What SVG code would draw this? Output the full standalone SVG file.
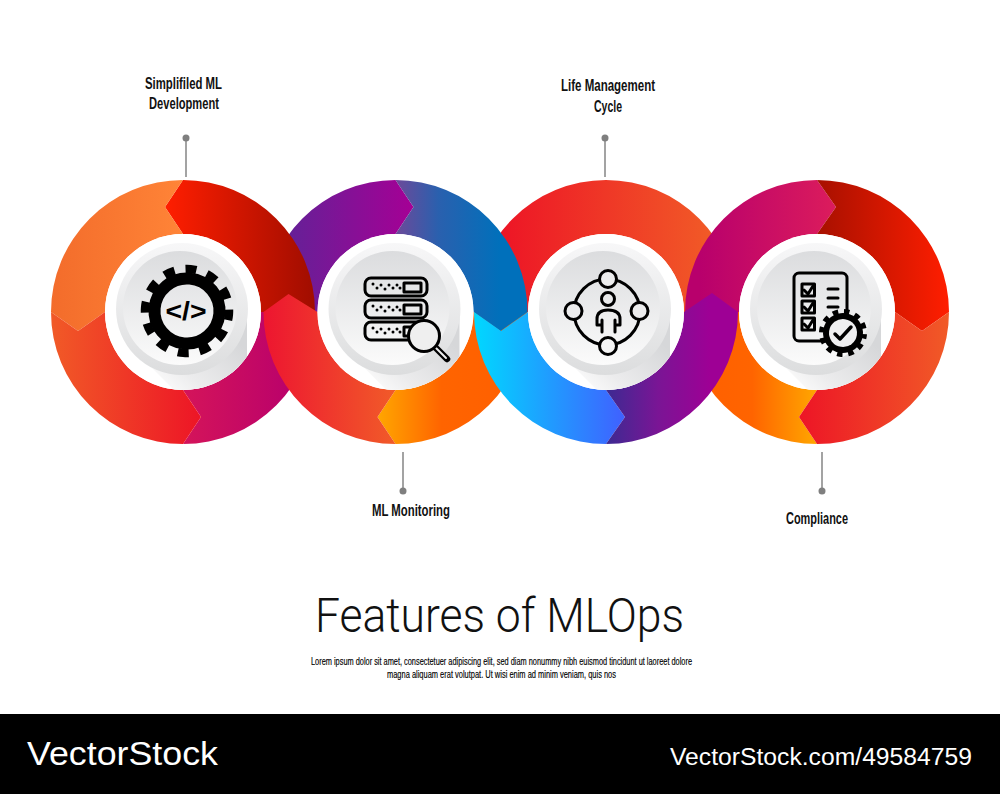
<svg xmlns="http://www.w3.org/2000/svg" width="1000" height="794" viewBox="0 0 1000 794">
<style>
.lbl{font-family:"Liberation Sans Narrow","Liberation Sans",sans-serif;font-size:16px;font-weight:700;fill:#111;text-anchor:middle}
.body{font-family:"Liberation Sans Narrow","Liberation Sans",sans-serif;font-size:10px;font-weight:400;fill:#000;stroke:#000;stroke-width:.15;text-anchor:middle}
.lead{stroke:#8c8c8c;stroke-width:1.6;fill:none}
.dot{fill:#7f7f7f}
.ink{fill:none;stroke:#000;stroke-width:3;stroke-linecap:round;stroke-linejoin:round}
.wm{font-family:"Liberation Sans",sans-serif;fill:#fff}
</style>
<defs>
<linearGradient id="g1a" gradientUnits="userSpaceOnUse" x1="51" x2="183" y1="0" y2="0"><stop offset="0" stop-color="#f36c2b"/><stop offset="1" stop-color="#ff8437"/></linearGradient>
<linearGradient id="g1b" gradientUnits="userSpaceOnUse" x1="165" x2="315" y1="0" y2="0"><stop offset="0" stop-color="#ff1e00"/><stop offset="1" stop-color="#a00d00"/></linearGradient>
<linearGradient id="g1c" gradientUnits="userSpaceOnUse" x1="51" x2="201" y1="0" y2="0"><stop offset="0" stop-color="#f15a27"/><stop offset="1" stop-color="#ed1526"/></linearGradient>
<linearGradient id="g1d" gradientUnits="userSpaceOnUse" x1="184" x2="300" y1="0" y2="0"><stop offset="0" stop-color="#d4145a"/><stop offset="1" stop-color="#b8006c"/></linearGradient>
<linearGradient id="g2a" gradientUnits="userSpaceOnUse" x1="290" x2="413" y1="0" y2="0"><stop offset="0" stop-color="#662097"/><stop offset="1" stop-color="#a50095"/></linearGradient>
<linearGradient id="g2b" gradientUnits="userSpaceOnUse" x1="397" x2="500" y1="0" y2="0"><stop offset="0" stop-color="#6a4a9a"/><stop offset=".4" stop-color="#2a60ae"/><stop offset="1" stop-color="#0070bb"/></linearGradient>
<linearGradient id="g2c" gradientUnits="userSpaceOnUse" x1="263" x2="394" y1="0" y2="0"><stop offset="0" stop-color="#ed1530"/><stop offset="1" stop-color="#f15a29"/></linearGradient>
<linearGradient id="g2d" gradientUnits="userSpaceOnUse" x1="378" x2="505" y1="0" y2="0"><stop offset="0" stop-color="#ffa600"/><stop offset=".5" stop-color="#ff6400"/><stop offset="1" stop-color="#ff6000"/></linearGradient>
<linearGradient id="g3a" gradientUnits="userSpaceOnUse" x1="500" x2="712" y1="0" y2="0"><stop offset="0" stop-color="#ed1526"/><stop offset="1" stop-color="#f15a27"/></linearGradient>
<linearGradient id="g3c" gradientUnits="userSpaceOnUse" x1="474" x2="625" y1="0" y2="0"><stop offset="0" stop-color="#00d8ff"/><stop offset="1" stop-color="#4060ff"/></linearGradient>
<linearGradient id="g3d" gradientUnits="userSpaceOnUse" x1="606" x2="710" y1="0" y2="0"><stop offset="0" stop-color="#3c2a92"/><stop offset=".5" stop-color="#7a1595"/><stop offset="1" stop-color="#9e0095"/></linearGradient>
<linearGradient id="g4a" gradientUnits="userSpaceOnUse" x1="700" x2="836" y1="0" y2="0"><stop offset="0" stop-color="#b8006c"/><stop offset="1" stop-color="#dc1c5c"/></linearGradient>
<linearGradient id="g4b" gradientUnits="userSpaceOnUse" x1="818" x2="949" y1="0" y2="0"><stop offset="0" stop-color="#a81000"/><stop offset="1" stop-color="#ff1e00"/></linearGradient>
<linearGradient id="g4c" gradientUnits="userSpaceOnUse" x1="799" x2="949" y1="0" y2="0"><stop offset="0" stop-color="#ed1526"/><stop offset="1" stop-color="#f15a27"/></linearGradient>
<linearGradient id="g4d" gradientUnits="userSpaceOnUse" x1="700" x2="816" y1="0" y2="0"><stop offset="0" stop-color="#ff6000"/><stop offset=".45" stop-color="#ff6400"/><stop offset="1" stop-color="#ffa600"/></linearGradient>
<linearGradient id="discA" x1="0" x2="0" y1="0" y2="1"><stop offset="0" stop-color="#f7f7f8"/><stop offset="1" stop-color="#dcddde"/></linearGradient>
<linearGradient id="discB" x1="0" x2="0" y1="0" y2="1"><stop offset="0" stop-color="#dbdcde"/><stop offset="1" stop-color="#fbfbfb"/></linearGradient>
<linearGradient id="shade" x1=".9" x2=".25" y1=".35" y2=".95"><stop offset="0" stop-color="#d6d7d9"/><stop offset=".7" stop-color="#ececed"/><stop offset="1" stop-color="#fafafa"/></linearGradient>
<clipPath id="hole"><circle r="78"/></clipPath>
<g id="disc">
<circle r="78" fill="#fff"/>
<path clip-path="url(#hole)" d="M-40 47L-4 83H64V0H30Z" fill="url(#shade)"/>
<circle cx="-1" cy="-3" r="66" fill="url(#discA)"/>
<circle cx="-3" cy="-4" r="57" fill="url(#discB)"/>
</g>
</defs>
<rect width="1000" height="794" fill="#fff"/>

<g id="ribbon">
<path fill="url(#g3a)" d="M474 312A132 132 0 0 1 738 312H684A78 78 0 0 0 528 312Z"/>
<path fill="url(#g4a)" d="M685 312A132 132 0 0 1 817 180L836 207L817 234A78 78 0 0 0 739 312Z"/>
<path fill="url(#g4d)" d="M817 444L799 417L817 390A78 78 0 0 1 739 312H685A132 132 0 0 0 817 444Z"/>
<path fill="url(#g2a)" d="M263.500 312A132 132 0 0 1 395.500 180L413.500 207L395.500 234A78 78 0 0 0 317.500 312Z"/>
<path fill="url(#g2d)" d="M395.500 444L377.500 417L395.500 390A78 78 0 0 0 473.500 312H527.500A132 132 0 0 1 395.500 444Z"/>
<path fill="url(#g1b)" d="M183 180A132 132 0 0 1 315 312H261A78 78 0 0 0 183 234L165 207Z"/>
<path fill="url(#g1d)" d="M183 444L201 417L183 390A78 78 0 0 0 261 312H315A132 132 0 0 1 183 444Z"/>
<path fill="url(#g1a)" d="M51 312A132 132 0 0 1 183 180L165 207L183 234A78 78 0 0 0 105 312L78 331Z"/>
<path fill="url(#g1c)" d="M51 312L78 331L105 312A78 78 0 0 0 183 390L201 417L183 444A132 132 0 0 1 51 312Z"/>
<path fill="url(#g2b)" d="M395.500 180A132 132 0 0 1 527.500 312L500.500 331L473.500 312A78 78 0 0 0 395.500 234L413.500 207Z"/>
<path fill="url(#g2c)" d="M263.500 312L288.500 294L317.500 312A78 78 0 0 0 395.500 390L377.500 417L395.500 444A132 132 0 0 1 263.500 312Z"/>
<path fill="url(#g3c)" d="M474 312L501 331L528 312A78 78 0 0 0 606 390L625 417L606 444A132 132 0 0 1 474 312Z"/>
<path fill="url(#g3d)" d="M606 444L625 417L606 390A78 78 0 0 0 684 312L712 293L738 312A132 132 0 0 1 606 444Z"/>
<path fill="url(#g4b)" d="M817 180A132 132 0 0 1 949 312L922 331L895 312A78 78 0 0 0 817 234L836 207Z"/>
<path fill="url(#g4c)" d="M949 312L922 331L895 312A78 78 0 0 1 817 390L799 417L817 444A132 132 0 0 0 949 312Z"/>
</g>

<g id="connectors">
<path class="lead" d="M186 138V177"/><circle class="dot" cx="186" cy="138" r="3.500"/>
<path class="lead" d="M605 138V177"/><circle class="dot" cx="605" cy="138" r="3.500"/>
<path class="lead" d="M403 491V452"/><circle class="dot" cx="403" cy="491" r="3.500"/>
<path class="lead" d="M822 491V452"/><circle class="dot" cx="822" cy="491" r="3.500"/>
</g>

<g id="node-development">
<use href="#disc" x="183" y="312"/>
<g transform="translate(187 311) rotate(5)">
<circle r="42" fill="none" stroke="#000" stroke-width="8.500" stroke-dasharray="11 10.990" stroke-dashoffset="5.500"/>
<circle r="32.500" fill="none" stroke="#000" stroke-width="12"/>
</g>
<text x="186" y="320" font-family="'Liberation Sans',sans-serif" font-size="25" font-weight="700" text-anchor="middle" textLength="41" lengthAdjust="spacingAndGlyphs">&lt;/&gt;</text>
<text class="lbl" x="183.500" y="89" textLength="77" lengthAdjust="spacingAndGlyphs">Simplifiled ML</text>
<text class="lbl" x="184" y="109" textLength="70" lengthAdjust="spacingAndGlyphs">Development</text>
</g>

<g id="node-monitoring">
<use href="#disc" x="395.500" y="312"/>
<g class="ink">
<rect x="365" y="278" width="62" height="18" rx="6"/>
<rect x="365" y="300" width="62" height="18" rx="6"/>
<rect x="365" y="322" width="62" height="18" rx="6"/>
<rect x="404" y="283" width="17" height="9"/>
<rect x="404" y="305" width="17" height="9"/>
<rect x="404" y="327" width="17" height="9"/>
</g>
<g fill="#000">
<g id="dots1"><circle cx="373" cy="284" r="1.500"/><circle cx="377" cy="288" r="1.500"/><circle cx="381" cy="285" r="1.500"/><circle cx="385" cy="289" r="1.500"/><circle cx="389" cy="285" r="1.500"/><circle cx="393" cy="288" r="1.500"/><circle cx="397" cy="285" r="1.500"/><circle cx="400" cy="288" r="1.500"/></g>
<use href="#dots1" y="22"/><use href="#dots1" y="44"/>
</g>
<path d="M435 347L447 359" stroke="#000" stroke-width="6.500" stroke-linecap="round"/>
<path d="M436 348L446 358" stroke="#eee" stroke-width="2" stroke-linecap="round"/>
<circle cx="424" cy="336" r="15.500" fill="#efefef" stroke="#000" stroke-width="3"/>
<text class="lbl" x="411" y="516" textLength="78" lengthAdjust="spacingAndGlyphs">ML Monitoring</text>
</g>

<g id="node-lifecycle">
<use href="#disc" x="606" y="312"/>
<g class="ink">
<circle cx="607" cy="312" r="33"/>
<circle cx="608" cy="279" r="8.500" fill="#ececed"/>
<circle cx="608" cy="346" r="8.500" fill="#f3f3f3"/>
<circle cx="573.500" cy="311" r="8.500" fill="#ececed"/>
<circle cx="639.500" cy="311" r="8.500" fill="#ececed"/>
<circle cx="608" cy="299" r="6.500"/>
<path d="M602 332V325H597V319Q597 310 608 310Q620 310 620 319V325H615V332M602 325V320M615 325V320"/>
</g>
<text class="lbl" x="608" y="91" textLength="94" lengthAdjust="spacingAndGlyphs">Life Management</text>
<text class="lbl" x="608" y="112" textLength="28" lengthAdjust="spacingAndGlyphs">Cycle</text>
</g>

<g id="node-compliance">
<use href="#disc" x="817" y="312"/>
<g class="ink">
<rect x="794" y="273" width="53" height="68" rx="5"/>
<rect x="802" y="284" width="12.500" height="12"/>
<rect x="802" y="301" width="12.500" height="12"/>
<rect x="802" y="318" width="12.500" height="12"/>
<path d="M804 290L808 294L813 286M804 307L808 311L813 303M804 324L808 328L813 320"/>
<path d="M828 289H838M828 298H838M828 307H838"/>
</g>
<g transform="translate(843 333) rotate(8)">
<circle r="21" fill="none" stroke="#000" stroke-width="6" stroke-dasharray="5.500 5.500" stroke-dashoffset="2.750"/>
<circle r="20" fill="#000"/>
<circle r="14" fill="#efeff0"/>
<path d="M-8 1L-3 6L8-6" transform="rotate(-8)" fill="none" stroke="#000" stroke-width="3.500" stroke-linecap="round" stroke-linejoin="round"/>
</g>
<text class="lbl" x="817" y="524" textLength="62" lengthAdjust="spacingAndGlyphs">Compliance</text>
</g>

<g id="caption">
<text x="499.500" y="632" font-family="Roboto,'Liberation Sans',sans-serif" font-weight="300" font-size="47.500" text-anchor="middle" fill="#111" textLength="369" lengthAdjust="spacingAndGlyphs">Features of MLOps</text>
<text class="body" x="501.500" y="665" textLength="381" lengthAdjust="spacingAndGlyphs">Lorem ipsum dolor sit amet, consectetuer adipiscing elit, sed diam nonummy nibh euismod tincidunt ut laoreet dolore</text>
<text class="body" x="501.500" y="678" textLength="229" lengthAdjust="spacingAndGlyphs">magna aliquam erat volutpat. Ut wisi enim ad minim veniam, quis nos</text>
</g>

<g id="watermark">
<rect y="714" width="1000" height="80" fill="#000"/>
<text class="wm" x="27" y="765" font-size="33" textLength="191" lengthAdjust="spacingAndGlyphs">VectorStock</text>
<text class="wm" x="670" y="765" font-size="23.500" textLength="302" lengthAdjust="spacingAndGlyphs">VectorStock.com/49584759</text>
</g>
</svg>
